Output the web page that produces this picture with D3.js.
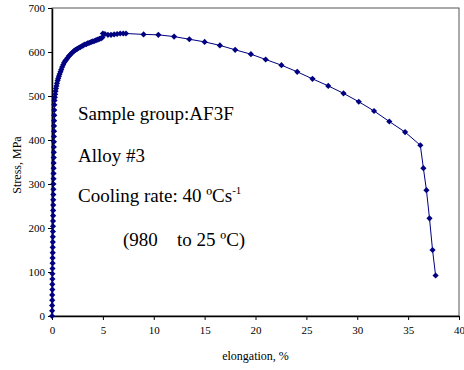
<!DOCTYPE html>
<html>
<head>
<meta charset="utf-8">
<script src="https://cdn.jsdelivr.net/npm/d3@7"></script>
<style>
  body { margin: 0; background: #fff; }
  svg { display: block; font-family: "Liberation Serif", "Times New Roman", serif; }
</style>
</head>
<body>
<svg id="chart" width="464" height="370"></svg>
<script>
// tensile curve (strain %, stress MPa)
const elasticStrain = [0.00,0.01,0.01,0.02,0.02,0.03,0.03,0.04,0.04,0.05,0.06,0.06,0.07,0.07,0.08,0.08,0.09,0.10,0.10,0.11,0.11,0.12,0.12,0.13,0.14,0.14,0.15,0.15,0.16,0.16,0.17,0.18,0.18,0.19,0.19,0.20,0.20,0.21,0.22,0.22,0.23];
const elasticStress = [0,12,24,36,48,60,72,84,96,108,120,132,144,156,168,180,192,204,216,228,240,252,264,276,288,300,312,324,336,348,360,372,384,396,408,420,432,444,456,468,480];

const hardStrain = [0.25,0.28,0.31,0.35,0.39,0.44,0.49,0.55,0.61,0.68,0.75,0.83,0.91,1.00,1.10,1.20,1.31,1.42,1.54,1.66,1.79,1.92,2.05,2.19,2.33,2.47,2.62,2.77,2.92,3.07,3.22,3.38,3.54,3.70,3.86,4.02,4.18,4.34,4.50,4.66,4.82,4.95];
const hardStress = [490,497,504,511,517,523,529,535,540,545,550,555,560,566,571,576,580,583,587,591,594,597,600,603,605,607,609,611,613,615,617,618,620,621,623,624,625,627,628,630,631,633];

const plateauStrain = [5.00,5.20,5.50,5.80,6.10,6.40,6.70,7.00,7.27];
const plateauStress = [642,641,639,639,640,641,642,642,642];

const neckStrain = [9.0,10.45,12.0,13.5,15.0,16.5,18.0,19.55,21.0,22.55,24.1,25.6,27.15,28.65,30.15,31.65,33.15,34.7,36.2,36.5,36.8,37.1,37.4,37.7];
const neckStress = [640,639,635,629,623,615,605,595,583,570,555,539,523,506,487,466,442,418,388,336,286,222,150,92];

const xTicks = [0,5,10,15,20,25,30,35,40];
const yTicks = [0,100,200,300,400,500,600,700];

const notes = ["Sample group:AF3F", "Alloy #3"];

const margin = {top: 8, right: 5, bottom: 54, left: 52};
const svg = d3.select("#chart");
const width = 464 - margin.left - margin.right;
const height = 370 - margin.top - margin.bottom;

const strain = elasticStrain.concat(hardStrain, plateauStrain, neckStrain);
const stress = elasticStress.concat(hardStress, plateauStress, neckStress);
const data = strain.map((s, i) => [s, stress[i]]);

const x = d3.scaleLinear().domain([0, 40]).range([0, width]);
const y = d3.scaleLinear().domain([0, 700]).range([height, 0]);

const g = svg.append("g").attr("transform", `translate(${margin.left},${margin.top})`);

// plot area border
g.append("rect")
  .attr("width", width).attr("height", height)
  .attr("fill", "none").attr("stroke", "#555").attr("stroke-width", 1);

// axes
const xAxis = g.append("g").attr("transform", `translate(0,${height})`)
  .call(d3.axisBottom(x).tickValues(xTicks).tickSize(4).tickSizeOuter(0).tickPadding(6));
const yAxis = g.append("g")
  .call(d3.axisLeft(y).tickValues(yTicks).tickSize(4).tickSizeOuter(0).tickPadding(3));

[xAxis, yAxis].forEach(a => {
  a.select(".domain").attr("stroke", "#000").attr("stroke-width", 1.5);
  a.selectAll(".tick line").attr("stroke", "#000");
  a.selectAll("text").attr("font-family", "Liberation Serif").attr("font-size", 11).attr("fill", "#000");
});

// curve
const line = d3.line().x(d => x(d[0])).y(d => y(d[1]));
g.append("path").datum(data)
  .attr("d", line)
  .attr("fill", "none").attr("stroke", "#000080").attr("stroke-width", 1);

// excel-style diamond markers (rotated squares)
const marker = d3.symbol().type(d3.symbolSquare).size(19);
g.selectAll(".pt").data(data).join("path")
  .attr("class", "pt")
  .attr("transform", d => `translate(${x(d[0])},${y(d[1])}) rotate(45)`)
  .attr("d", marker)
  .attr("fill", "#000080");

// axis titles
svg.append("text")
  .attr("transform", "translate(21,165) rotate(-90)")
  .attr("text-anchor", "middle").attr("font-size", 12)
  .text("Stress, MPa");
svg.append("text")
  .attr("x", margin.left + width / 2).attr("y", 360)
  .attr("text-anchor", "middle").attr("font-size", 12)
  .text("elongation, %");

// annotation
const fs = 19;
svg.append("text").attr("x", 78).attr("y", 120).attr("font-size", fs).text(notes[0]);
svg.append("text").attr("x", 78).attr("y", 162).attr("font-size", fs).text(notes[1]);
const cr = svg.append("text").attr("x", 78).attr("y", 202).attr("font-size", fs);
cr.append("tspan").text("Cooling rate: 40 ºCs");
cr.append("tspan").attr("dy", -8).attr("font-size", 11).text("-1");
const rg = svg.append("text").attr("y", 246).attr("font-size", fs);
rg.append("tspan").attr("x", 123).text("(980");
rg.append("tspan").attr("x", 177).text("to 25 ºC)");
</script>
</body>
</html>
